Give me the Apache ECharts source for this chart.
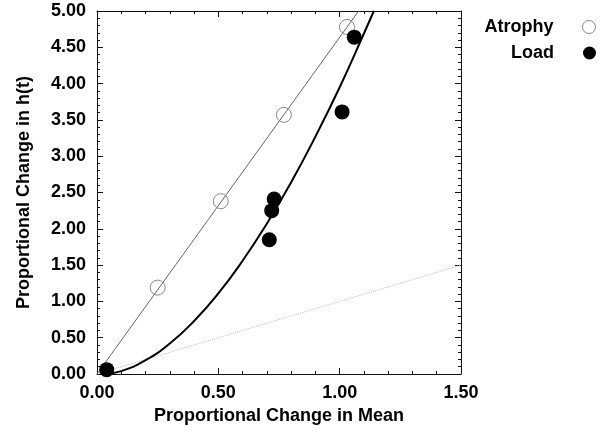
<!DOCTYPE html>
<html>
<head>
<meta charset="utf-8">
<script src="https://cdn.jsdelivr.net/npm/echarts@6/dist/echarts.min.js"></script>
<style>html,body{margin:0;padding:0;background:#fff}#c{width:600px;height:432px}</style>
</head>
<body>
<div id="c"></div>
<script>
// Data
const atrophyX = [0.25, 0.51, 0.77, 1.03];
const atrophyY = [1.19, 2.38, 3.57, 4.78];
const loadX = [0.04, 0.71, 0.72, 0.73, 1.01, 1.06];
const loadY = [0.06, 1.85, 2.25, 2.41, 3.61, 4.64];
// Atrophy fitted line (thin)
const atrophyLineX = [0, 1.078];
const atrophyLineY = [0, 5.0];
// Load fitted curve (thick)
const loadCurveX = [0.03, 0.10, 0.20, 0.30, 0.40, 0.50, 0.60, 0.70, 0.80, 0.90, 1.00, 1.10, 1.141];
const loadCurveY = [0.00, 0.04, 0.19, 0.42, 0.73, 1.11, 1.56, 2.07, 2.64, 3.27, 3.95, 4.69, 5.00];
// Identity reference line (dotted)
const identityX = [0, 1.5];
const identityY = [0, 1.5];
// Axis ranges / ticks
const xMin = 0, xMax = 1.5, xStep = 0.5;
const yMin = 0, yMax = 5, yStep = 0.5;
const xTitle = 'Proportional Change in Mean';
const yTitle = 'Proportional Change in h(t)';

const pair = (xs, ys) => xs.map((x, i) => [x, ys[i]]);
const FONT = '"Liberation Sans", Arial, Helvetica, sans-serif';
const axisLineStyle = { color: '#111', width: 1 };

function xAxisCfg(pos, showLabel) {
  return {
    type: 'value', position: pos, min: xMin, max: xMax, interval: xStep,
    name: showLabel ? xTitle : '', nameLocation: 'middle', nameGap: 25,
    nameTextStyle: { fontFamily: FONT, fontWeight: 'bold', fontSize: 18, color: '#000' },
    axisLine: { show: true, onZero: false, lineStyle: axisLineStyle },
    axisTick: { show: true, inside: true, length: 6, lineStyle: axisLineStyle },
    minorTick: { show: true, splitNumber: 5, length: 3, lineStyle: axisLineStyle },
    splitLine: { show: false },
    axisLabel: { show: showLabel, margin: 10, fontFamily: FONT, fontWeight: 'bold', fontSize: 18, color: '#000',
      formatter: v => v.toFixed(2) }
  };
}
function yAxisCfg(pos, showLabel) {
  return {
    type: 'value', position: pos, min: yMin, max: yMax, interval: yStep,
    name: showLabel ? yTitle : '', nameLocation: 'middle', nameGap: 64,
    nameTextStyle: { fontFamily: FONT, fontWeight: 'bold', fontSize: 18, color: '#000' },
    axisLine: { show: true, onZero: false, lineStyle: axisLineStyle },
    axisTick: { show: true, inside: true, length: 6, lineStyle: axisLineStyle },
    minorTick: { show: true, splitNumber: 5, length: 3, lineStyle: axisLineStyle },
    splitLine: { show: false },
    axisLabel: { show: showLabel, margin: 11, fontFamily: FONT, fontWeight: 'bold', fontSize: 18, color: '#000',
      formatter: v => v.toFixed(2) }
  };
}

const chart = echarts.init(document.getElementById('c'), null, { renderer: 'canvas' });
chart.setOption({
  animation: false,
  backgroundColor: '#fff',
  grid: { left: 97, right: 139, top: 11, bottom: 58, containLabel: false },
  xAxis: [xAxisCfg('bottom', true), xAxisCfg('top', false)],
  yAxis: [yAxisCfg('left', true), yAxisCfg('right', false)],
  legend: [
    { data: [{ name: 'Atrophy', icon: 'circle', itemStyle: { color: 'rgba(0,0,0,0)', borderColor: '#888', borderWidth: 1, opacity: 1 } }],
      orient: 'vertical', align: 'right', right: 4, top: 18, padding: 0, itemWidth: 13, itemHeight: 13,
      textStyle: { fontFamily: FONT, fontWeight: 'bold', fontSize: 18, color: '#000', padding: [0, 24, 0, 0] } },
    { data: [{ name: 'Load', icon: 'circle', itemStyle: { color: '#000', opacity: 1 } }],
      orient: 'vertical', align: 'right', right: 4, top: 44, padding: 0, itemWidth: 13, itemHeight: 13,
      textStyle: { fontFamily: FONT, fontWeight: 'bold', fontSize: 18, color: '#000', padding: [0, 24, 0, 0] } }
  ],
  series: [
    { name: 'identity', type: 'line', data: pair(identityX, identityY), showSymbol: false, silent: true,
      lineStyle: { color: '#bbb', width: 1, type: 'dotted' }, z: 1 },
    { name: 'atrophyFit', type: 'line', data: pair(atrophyLineX, atrophyLineY), showSymbol: false, silent: true,
      lineStyle: { color: '#666', width: 1 }, z: 2 },
    { name: 'loadFit', type: 'line', data: pair(loadCurveX, loadCurveY), showSymbol: false, smooth: true, silent: true,
      lineStyle: { color: '#000', width: 2 }, z: 2 },
    { name: 'Atrophy', type: 'scatter', data: pair(atrophyX, atrophyY), symbol: 'circle', symbolSize: 15,
      itemStyle: { color: 'rgba(0,0,0,0)', borderColor: '#888', borderWidth: 1, opacity: 1 }, z: 3 },
    { name: 'Load', type: 'scatter', data: pair(loadX, loadY), symbol: 'circle', symbolSize: 15,
      itemStyle: { color: '#000', opacity: 1 }, z: 4 }
  ]
});
</script>
</body>
</html>
